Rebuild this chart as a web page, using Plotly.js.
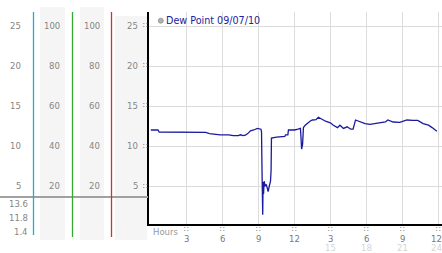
<!DOCTYPE html>
<html>
<head>
<meta charset="utf-8">
<script src="https://cdn.plot.ly/plotly-3.0.1.min.js"></script>
<style>html,body{margin:0;padding:0;background:#fff;}#chart{width:442px;height:253px;}</style>
</head>
<body>
<div id="chart"></div>
<script>
// ---- data ----
const hours = [0,0.6,0.7,2.0,3.5,4.6,4.9,5.3,5.8,6.5,6.9,7.3,7.5,7.7,7.9,8.1,8.33,8.6,8.9,9.2,9.25,9.3,9.35,9.38,9.42,9.47,9.55,9.65,9.75,9.8,9.9,10.0,10.05,10.08,10.5,11.0,11.2,11.25,11.45,11.5,11.9,12.0,12.3,12.5,12.55,12.6,12.68,12.75,12.9,13.1,13.3,13.5,13.8,14.0,14.2,14.6,15.0,15.25,15.6,15.8,16.1,16.4,16.7,16.9,17.1,17.5,17.9,18.3,18.75,19.2,19.6,19.8,20.25,20.8,21.4,21.9,22.3,22.75,23.2,23.5,23.75,23.9];
const dewPoint = [12.0,12.0,11.75,11.75,11.7,11.7,11.55,11.45,11.4,11.4,11.3,11.3,11.4,11.3,11.35,11.55,11.9,12.0,12.2,12.1,11.8,6.0,1.4,5.5,4.0,5.6,5.0,5.2,4.5,4.3,5.0,5.6,7.0,11.0,11.1,11.2,11.2,11.4,11.4,12.0,11.95,12.0,12.1,12.2,11.0,9.6,10.2,12.3,12.6,12.9,13.1,13.25,13.3,13.6,13.4,13.1,12.9,12.6,12.3,12.6,12.2,12.4,12.1,12.1,13.25,13.0,12.8,12.7,12.8,12.95,13.0,13.25,13.0,12.95,13.25,13.2,13.2,12.8,12.6,12.3,12.0,11.85];
const seriesName = 'Dew Point 09/07/10';
const xTickVals = [3,6,9,12,15,18,21,24];
const xTickText = ['3','6','9','12','3','6','9','12'];
const xTickText24 = ['','','','','15','18','21','24'];
const yTickVals = [5,10,15,20,25];
const humidityTicks = [20,40,60,80,100];
const statsLabels = ['13.6','11.8','1.4'];

// ---- helpers for pixel placement ----
const W = 442, H = 253;
const px = x => x / W;
const py = y => 1 - y / H;
const FONT = 'DejaVu Sans';
const GRAY = '#858585';

const yRange = [0.25, 26.75];
const annotations = [];
function ann(o) {
  annotations.push(Object.assign({showarrow:false, borderpad:0, borderwidth:0,
    font:{family:FONT, size:8.5, color:GRAY}}, o));
}
const MARKCHAR = '\u2237';
const MARK = {family:FONT, size:8, color:'#7a7a7a'};
// left columns
yTickVals.forEach(v => {
  ann({text:String(v), xref:'paper', x:px(21), xanchor:'right', yref:'y', y:v, yanchor:'middle'});
  ann({text:String(v), xref:'paper', x:px(138), xanchor:'right', yref:'y', y:v, yanchor:'middle'});
  ann({text:MARKCHAR, xref:'paper', x:px(145), xanchor:'center', yref:'y', y:v, yanchor:'middle', font:MARK});
});
humidityTicks.forEach(v => {
  ann({text:String(v), xref:'paper', x:px(60), xanchor:'right', yref:'y2', y:v, yanchor:'middle'});
  ann({text:String(v), xref:'paper', x:px(100), xanchor:'right', yref:'y2', y:v, yanchor:'middle'});
});
const statY = [204, 218, 232];
statsLabels.forEach((t, i) => {
  ann({text:t, xref:'paper', x:px(27.5), xanchor:'right', yref:'paper', y:py(statY[i]), yanchor:'middle'});
});
// x tick labels
xTickVals.forEach((v, i) => {
  const last = i === xTickVals.length - 1;
  const pos = last ? {xref:'paper', x:1, xanchor:'right'} : {xref:'x', x:v, xanchor:'center'};
  ann({text:MARKCHAR, xref:'x', x:v, xanchor:'center', yref:'paper', y:py(229.5), yanchor:'middle', font:MARK});
  ann(Object.assign({text:xTickText[i], yref:'paper', y:py(238.5), yanchor:'middle', font:{family:FONT,size:8.5,color:'#777'}}, pos));
  if (xTickText24[i]) ann(Object.assign({text:xTickText24[i], yref:'paper', y:py(247.5), yanchor:'middle', font:{family:FONT,size:8.5,color:'#d4d4d4'}}, pos));
});
ann({text:'Hours', xref:'paper', x:px(153), xanchor:'left', yref:'paper', y:py(232), yanchor:'middle', font:{family:FONT,size:8.5,color:'#999'}});
// legend
ann({text:seriesName, xref:'paper', x:px(165.5), xanchor:'left', yref:'paper', y:py(20.7), yanchor:'middle', font:{family:FONT,size:9.6,color:'#22229a'}});

const shapes = [
  // gray column backgrounds
  {type:'rect', xref:'paper', yref:'paper', x0:px(40), x1:px(65), y0:py(240), y1:py(7), fillcolor:'#f5f5f5', line:{width:0}, layer:'below'},
  {type:'rect', xref:'paper', yref:'paper', x0:px(80), x1:px(104), y0:py(240), y1:py(7), fillcolor:'#f5f5f5', line:{width:0}, layer:'below'},
  {type:'rect', xref:'paper', yref:'paper', x0:px(115), x1:px(147), y0:py(240), y1:py(16), fillcolor:'#f5f5f5', line:{width:0}, layer:'below'},
  // horizontal separator
  {type:'line', xref:'paper', yref:'paper', x0:0, x1:px(148), y0:py(197), y1:py(197), line:{color:'#a0a0a0', width:2}},
  // colored verticals
  {type:'line', xref:'paper', yref:'paper', x0:px(33.5), x1:px(33.5), y0:py(12), y1:py(235), line:{color:'#22aadd', width:1.3}},
  {type:'line', xref:'paper', yref:'paper', x0:px(72.5), x1:px(72.5), y0:py(12), y1:py(237), line:{color:'#33aa33', width:1.3}},
  {type:'line', xref:'paper', yref:'paper', x0:px(111.5), x1:px(111.5), y0:py(12), y1:py(237), line:{color:'#cc3333', width:1.3}},
  // legend marker
  {type:'circle', xref:'paper', yref:'paper', x0:px(158.3), x1:px(163.3), y0:py(23.2), y1:py(18.2), fillcolor:'#b0b0b0', line:{color:'#909090', width:0.8}}
];

const x0px = 150.8, pxPerHr = 11.97;
const xRange = [(149 - x0px) / pxPerHr, (442 - x0px) / pxPerHr];

const trace = {
  x: hours, y: dewPoint, type:'scatter', mode:'lines', name: seriesName,
  line:{color:'#1a1aa0', width:1.3}, hoverinfo:'skip'
};

const layout = {
  width: W, height: H,
  margin:{l:0, r:0, t:0, b:0, pad:0},
  paper_bgcolor:'#fff', plot_bgcolor:'#fff',
  showlegend:false,
  font:{family:FONT, size:8.5, color:GRAY},
  xaxis:{domain:[px(149), 1], range:xRange, tickvals:xTickVals, showticklabels:false,
    showgrid:true, gridcolor:'#dcdcdc', gridwidth:1, zeroline:false,
    showline:true, linecolor:'#000', linewidth:2, ticks:'', fixedrange:true},
  yaxis:{domain:[py(224), py(12)], range:yRange, tickvals:yTickVals, showticklabels:false,
    showgrid:true, gridcolor:'#dcdcdc', gridwidth:1, zeroline:false,
    showline:true, linecolor:'#000', linewidth:2, ticks:'', fixedrange:true},
  yaxis2:{overlaying:'y', range:[yRange[0]*4, yRange[1]*4], visible:false, showgrid:false, fixedrange:true},
  annotations: annotations,
  shapes: shapes
};

Plotly.newPlot('chart', [trace], layout, {staticPlot:true, displayModeBar:false});
</script>
</body>
</html>
